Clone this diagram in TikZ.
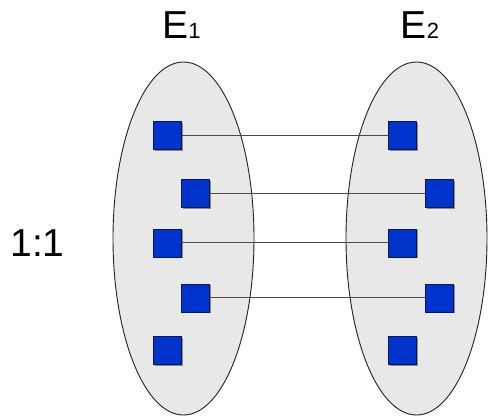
\documentclass[tikz,border=0pt]{standalone}
\usepackage{fontspec}
\setmainfont{Liberation Sans}
\usetikzlibrary{shapes.geometric}
\definecolor{setfill}{HTML}{E8E8E8}
\definecolor{setline}{HTML}{202020}
\definecolor{elemfill}{HTML}{0033CC}
\definecolor{elemline}{HTML}{0A1850}
\definecolor{elemshadow}{HTML}{8A8A8A}
\definecolor{linkline}{HTML}{4A4A4A}
\tikzset{
  setshape/.style={ellipse, draw=setline, fill=setfill, line width=0.9pt,
    minimum width=141pt, minimum height=353pt, inner sep=0pt},
  elem/.style={rectangle, draw=elemline, fill=elemfill, line width=0.9pt,
    minimum size=28pt, inner sep=0pt,
    preaction={fill=elemshadow, transform canvas={shift={(1.2pt,-1.2pt)}}}},
  link/.style={draw=linkline, line width=1pt},
  bigtext/.style={font=\fontsize{39}{39}\selectfont, inner sep=0pt, anchor=base},
}
\newcommand{\smalldigit}[1]{{\fontsize{22}{22}\selectfont #1}}
\begin{document}
\begin{tikzpicture}[x=1pt, y=-1pt]
  \useasboundingbox (0,0) rectangle (488,417);
  % the two entity sets
  \node[setshape] (set1) at (183.5,238.5) {};
  \node[setshape] (set2) at (416.5,238.5) {};
  % set labels
  \node[bigtext] (lab1) at (181.5,39) {E\smalldigit{1}};
  \node[bigtext] (lab2) at (420,39) {E\smalldigit{2}};
  \node[bigtext] (ratio) at (37.5,257) {1:1};
  % elements of E1
  \node[elem] (a1) at (167.5,135.5) {};
  \node[elem] (a2) at (195.5,193.5) {};
  \node[elem] (a3) at (167.5,243) {};
  \node[elem] (a4) at (195.5,298) {};
  \node[elem] (a5) at (167.5,350.5) {};
  % elements of E2
  \node[elem] (b1) at (402.5,135.5) {};
  \node[elem] (b2) at (439.5,193.5) {};
  \node[elem] (b3) at (402.5,243) {};
  \node[elem] (b4) at (439.5,298) {};
  \node[elem] (b5) at (402.5,350.5) {};
  % one-to-one pairing
  \draw[link] (a1) -- (b1);
  \draw[link] (a2) -- (b2);
  \draw[link] (a3) -- (b3);
  \draw[link] (a4) -- (b4);
\end{tikzpicture}
\end{document}
